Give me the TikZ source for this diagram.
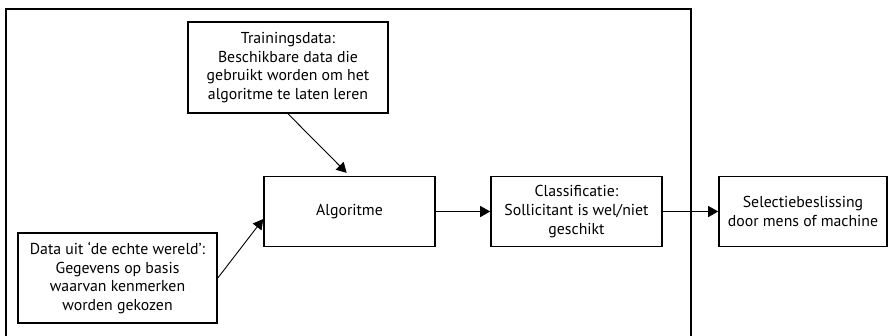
\documentclass[tikz,border=0pt]{standalone}
\usepackage{fontspec}
\setmainfont{PT Sans}
\usetikzlibrary{arrows.meta,calc}
\begin{document}
\begin{tikzpicture}[x=1pt,y=-1pt,
  box/.style={draw,line width=1.6pt,align=center,inner sep=0pt,
    font=\fontsize{15.8}{18.7}\selectfont},
  conn/.style={line width=0.9pt,-{Triangle[length=10pt,width=11pt]}}]
\useasboundingbox (0,0) rectangle (888,335);
\draw[line width=1.4pt] (6,345) -- (6,9) -- (691,9) -- (691,345);
\node[box,minimum width=200pt,minimum height=91pt] (train) at (288,67.5)
  {Trainingsdata:\\Beschikbare data die\\gebruikt worden om het\\algoritme te laten leren};
\node[box,minimum width=171pt,minimum height=70pt] (algo) at (349.5,211.5) {Algoritme};
\node[box,minimum width=171pt,minimum height=70pt] (class) at (576.5,211.5)
  {Classificatie:\\Sollicitant is wel/niet\\geschikt};
\node[box,minimum width=168pt,minimum height=70pt] (sel) at (803,211.5)
  {Selectiebeslissing\\door mens of machine};
\node[box,minimum width=199pt,minimum height=90pt] (data) at (117.5,278)
  {Data uit ‘de echte wereld’:\\Gegevens op basis\\waarvan kenmerken\\worden gekozen};
\draw[conn,shorten >=4pt] (train.south) -- (algo.north);
\draw[conn] (data.east) -- (algo.185);
\draw[conn] (algo.east) -- (class.west);
\draw[conn] (class.east) -- (sel.west);
\end{tikzpicture}
\end{document}
